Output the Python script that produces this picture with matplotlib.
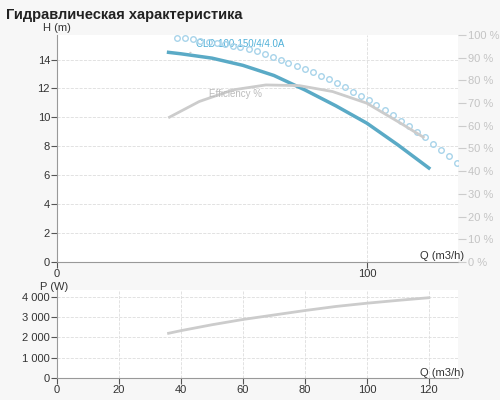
import matplotlib
matplotlib.use('Agg')
from matplotlib import pyplot as plt

plt.rcParams['font.family'] = ['Liberation Sans', 'DejaVu Sans']

# Head curve (m)
q_head = [36, 40, 50, 60, 70, 80, 90, 100, 110, 120]
head = [14.5, 14.4, 14.1, 13.6, 12.9, 11.9, 10.8, 9.6, 8.1, 6.5]

# Efficiency (%)
q_eff = [36.3, 45.9, 56.7, 67.4, 78.2, 88.9, 99.9, 110.7, 118.2]
eff = [63.8, 70.7, 75.8, 78.0, 77.7, 75.1, 70.0, 61.3, 55.0]

# Dotted curve (% scale)
q_dots = [38.6, 41.2, 43.8, 46.3, 48.9, 51.5, 54.1, 56.7, 59.2, 61.8, 64.4, 67.0,
          69.6, 72.2, 74.7, 77.3, 79.9, 82.5, 85.1, 87.7, 90.2, 92.8, 95.4, 98.0,
          100.6, 103.1, 105.7, 108.3, 110.9, 113.5, 116.1, 118.6, 121.2, 123.8, 126.4, 129.0]
dots = [98.8, 98.6, 98.1, 97.5, 97.1, 96.5, 95.9, 95.3, 94.8, 94.0, 93.1, 91.6,
        90.2, 88.9, 87.8, 86.5, 85.2, 83.7, 82.1, 80.5, 78.7, 77.0, 75.1, 73.2,
        71.2, 69.1, 66.9, 64.6, 62.3, 59.7, 57.3, 54.9, 52.1, 49.5, 46.7, 43.8]

# Power (W)
q_pow = [36, 40, 50, 60, 70, 80, 90, 100, 110, 120]
power = [2200, 2330, 2620, 2880, 3100, 3320, 3520, 3680, 3820, 3950]

BLUE = '#5aaac6'
GRAY = '#cccccc'
AX = '#999999'
TXT = '#333333'

fig = plt.figure(figsize=(5, 4), dpi=100)
fig.patch.set_facecolor('#f7f7f7')
fig.text(0.012, 0.98, 'Гидравлическая характеристика', fontsize=10.5,
         fontweight='bold', color='#222222', va='top')


def style(ax):
    ax.set_facecolor('white')
    for s in ('top', 'right'):
        ax.spines[s].set_visible(False)
    for s in ('left', 'bottom'):
        ax.spines[s].set_color(AX)
    ax.tick_params(colors=TXT, labelsize=8, length=4, color='#555555', pad=1)


# --- top chart
ax = fig.add_axes([0.114, 0.345, 0.802, 0.5675])
style(ax)
ax.set_xlim(0, 129.4)
ax.set_ylim(0, 15.7)
ax.set_yticks(range(0, 16, 2))
ax.set_xticks([0, 100])
ax.grid(axis='y', color='#dddddd', ls='--', lw=0.6)
ax.axvline(100, color='#dddddd', ls='--', lw=0.6)
ax.plot(q_head, head, color=BLUE, lw=2.5, zorder=4)
ax.text(0, 16.0, 'H (m)', fontsize=8, color=TXT, ha='center')
ax.text(117, 0.2, 'Q (m3/h)', fontsize=8, color=TXT)
ax.annotate('CLD 100-150/4/4.0A', xy=(42, 14.45), xytext=(45, 14.85),
            fontsize=7, color='#4fb0d8',
            arrowprops=dict(arrowstyle='-', color=GRAY, lw=1))

ax2 = ax.twinx()
ax2.set_ylim(0, 100 * 15.7 / 15.85)
for s in ax2.spines.values():
    s.set_visible(False)
ax2.set_yticks(range(0, 101, 10))
ax2.set_yticklabels([f'{v} %' for v in range(0, 101, 10)])
ax2.tick_params(axis='y', colors='#c4c4c4', labelsize=8, length=6, color='#cccccc', pad=1)
ax2.plot(q_eff, eff, color=GRAY, lw=2, zorder=3)
ax2.plot(q_dots, dots, ls='none', marker='o', ms=4, mfc='none', mec='#a8d4ea', mew=1)
ax2.annotate('Efficiency %', xy=(47, 71.5), xytext=(49, 72.5),
             fontsize=7, color='#bbbbbb',
             arrowprops=dict(arrowstyle='-', color=GRAY, lw=1))

# --- bottom chart
bx = fig.add_axes([0.114, 0.055, 0.802, 0.22])
style(bx)
bx.set_xlim(0, 129.4)
bx.set_ylim(0, 4330)
bx.set_xticks(range(0, 121, 20))
bx.set_yticks(range(0, 4001, 1000))
bx.set_yticklabels(['0', '1 000', '2 000', '3 000', '4 000'])
bx.grid(color='#dddddd', ls='--', lw=0.6)
bx.plot(q_pow, power, color=GRAY, lw=2)
bx.text(-1, 4350, 'P (W)', fontsize=8, color=TXT, ha='center')
bx.text(117, 120, 'Q (m3/h)', fontsize=8, color=TXT)

fig.savefig('out.png', dpi=100, facecolor=fig.get_facecolor())
